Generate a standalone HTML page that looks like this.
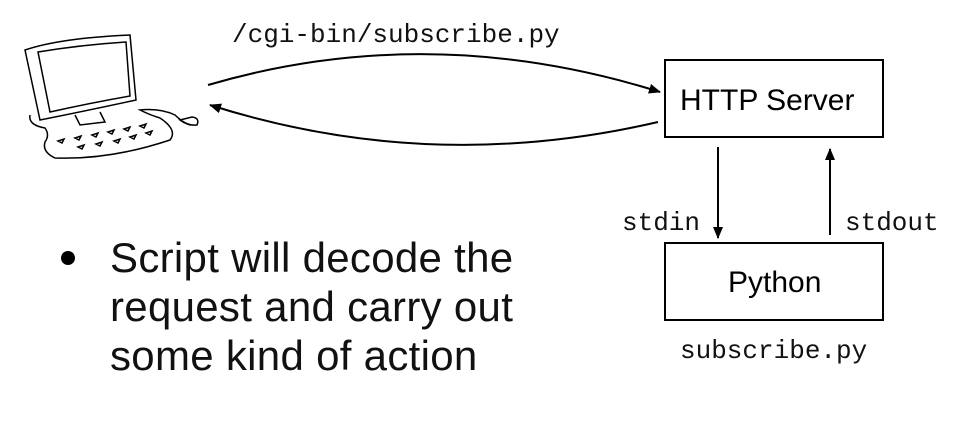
<!DOCTYPE html>
<html><head><style>
body{margin:0;width:970px;height:436px;background:#fff;overflow:hidden;position:relative;font-family:"Liberation Sans",sans-serif}
.m{position:absolute;font-family:"Liberation Mono",monospace;font-size:26px;color:#111;line-height:30px}
.b{position:absolute;font-size:30px;color:#000;line-height:34px}
.t{position:absolute;left:110px;font-size:42px;line-height:49px;top:233px;color:#111;letter-spacing:0.3px}
</style></head><body>
<svg width="970" height="436" style="position:absolute;left:0;top:0">
<defs><marker id="a" markerWidth="12" markerHeight="12" refX="11" refY="6" orient="auto" markerUnits="userSpaceOnUse"><path d="M0,1 L12,6 L0,11 z" fill="#000"/></marker></defs>
<g fill="none" stroke="#000" stroke-width="2">
<rect x="665" y="60" width="218" height="77"/>
<rect x="665" y="243" width="218" height="77"/>
<path d="M208,85 Q430,20 660,92" marker-end="url(#a)"/>
<path d="M658,122 Q430,175 210,105" marker-end="url(#a)"/>
<path d="M718,147 L718,238" marker-end="url(#a)"/>
<path d="M830,235 L830,149" marker-end="url(#a)"/>
<g stroke-width="1.5">
<path d="M25,50 Q60,38 130,35 L136,100 Q90,110 40,120 Z"/>
<path d="M38,52 Q80,45 126,42 L130,96 Q90,103 50,112 Z"/>
<path d="M75,115 L80,125 L105,122 L100,112"/>
<path d="M30,115 Q28,125 45,128 Q50,135 45,142 Q42,152 55,158 Q110,160 170,140 Q178,130 160,118 Q150,115 140,110 Q160,108 175,115 Q182,122 190,125"/>
<path d="M180,120 Q188,126 197,125 Q200,118 192,117 Z"/>
<path d="M58,141 l6,-2 l-2,4 z M75,138 l6,-2 l-2,4 z M92,135 l6,-2 l-2,4 z M108,132 l6,-2 l-2,4 z M124,129 l6,-2 l-2,4 z M140,126 l6,-2 l-2,4 z M78,147 l6,-2 l-2,4 z M96,144 l6,-2 l-2,4 z M114,141 l6,-2 l-2,4 z M130,137 l6,-2 l-2,4 z M146,133 l6,-2 l-2,4 z"/>
</g>
</g>
<circle cx="68" cy="258" r="7" fill="#000"/>
</svg>
<div class="m" style="left:232px;top:20px">/cgi-bin/subscribe.py</div>
<div class="b" style="left:680px;top:84px">HTTP Server</div>
<div class="b" style="left:728px;top:266px">Python</div>
<div class="m" style="left:622px;top:208px">stdin</div>
<div class="m" style="left:845px;top:208px">stdout</div>
<div class="m" style="left:680px;top:336px">subscribe.py</div>
<div class="t">Script will decode the<br>request and carry out<br>some kind of action</div>
</body></html>
